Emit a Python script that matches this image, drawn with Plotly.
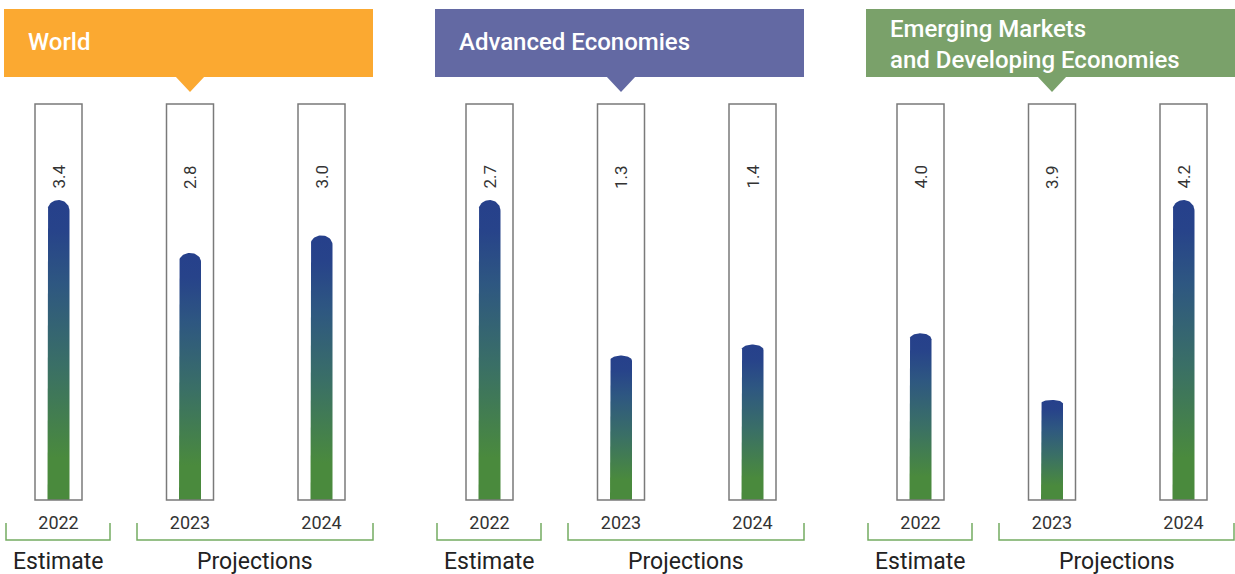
import numpy as np
import plotly.graph_objects as go

# data
panels = ["World", "Advanced Economies", "Emerging Markets<br>and Developing Economies"]
years = ["2022", "2023", "2024"]
world = [3.4, 2.8, 3.0]
advanced = [2.7, 1.3, 1.4]
emde = [4.0, 3.9, 4.2]
bases = [0, 0, 3.75]   # value at bottom of each tube
groups = ["Estimate", "Projections"]

series = [world, advanced, emde]
header_colors = ["#FBA931", "#6369A3", "#7AA16A"]

W, H = 1235, 574


def px(x):
    return x / W


def py(y):
    return 1 - y / H


gradient = [[0.0, "#4A8A3D"], [0.14, "#4A8A3D"], [0.45, "#3A6F66"],
            [0.72, "#2E5781"], [0.9, "#27438A"], [1.0, "#26408B"]]

fig = go.Figure()
shapes = []
annotations = []

step = 131.5       # pixels between tube centres
tube_half = 23.5 / step
bar_half = 11 / step

for p, (name, vals, base) in enumerate(zip(panels, series, bases)):
    o = 431 * p
    k = "" if p == 0 else str(p + 1)
    xa, ya = "x" + k, "y" + k
    top = base + (max(vals) - base) * 1.32

    fig.update_layout(**{
        "xaxis" + k: dict(domain=[px(58.5 + o - 0.2 * step), px(321.5 + o + 0.2 * step)],
                          range=[-0.2, 2.2], showgrid=False, zeroline=False, showline=False,
                          tickvals=[0, 1, 2], ticktext=years, ticks="outside", ticklen=6,
                          tickcolor="rgba(0,0,0,0)", tickfont=dict(size=18, color="#333"),
                          anchor=ya, fixedrange=True),
        "yaxis" + k: dict(domain=[py(500), py(104)], range=[base, top], showgrid=False,
                          zeroline=False, showline=False, showticklabels=False,
                          anchor=xa, fixedrange=True),
    })

    # thermometer bars
    for i, v in enumerate(vals):
        ry = 0.036 * (v - base)
        t = np.linspace(np.pi, 0, 30)
        xs = [i - bar_half] + list(i + bar_half * np.cos(t)) + [i + bar_half, i - bar_half]
        ys = [base] + list(v - ry + ry * np.sin(t)) + [base, base]
        fig.add_trace(go.Scatter(
            x=xs, y=ys, xaxis=xa, yaxis=ya, mode="lines", fill="toself",
            line=dict(width=0), fillgradient=dict(type="vertical", colorscale=gradient),
            hoverinfo="skip", showlegend=False))

        shapes.append(dict(type="rect", xref=xa, yref=ya + " domain",
                           x0=i - tube_half, x1=i + tube_half, y0=0, y1=1,
                           line=dict(color="#7a7a7a", width=1.5)))
        annotations.append(dict(xref=xa, yref=ya + " domain", x=i, y=(500 - 163) / 396,
                                text=f"{v:.1f}", textangle=-90, showarrow=False,
                                font=dict(size=17, color="#333")))

    # header box with pointer
    shapes.append(dict(type="rect", xref="paper", yref="paper", layer="below",
                       x0=px(4 + o), x1=px(min(373 + o, W)), y0=py(77), y1=py(9),
                       fillcolor=header_colors[p], line=dict(width=0)))
    shapes.append(dict(type="path", xref="paper", yref="paper",
                       path=f"M {px(175 + o)},{py(76)} L {px(205 + o)},{py(76)} "
                            f"L {px(190 + o)},{py(92)} Z",
                       fillcolor=header_colors[p], line=dict(width=0)))
    two_line = "<br>" in name
    annotations.append(dict(xref="paper", yref="paper", x=px(26 + o),
                            y=py(44 if two_line else 42),
                            text=name, xanchor="left", yanchor="middle", align="left",
                            showarrow=False,
                            font=dict(size=24, color="white", weight=500)))

    # estimate / projections brackets
    for (x0, x1), label in zip([(6, 110), (137, 373)], groups):
        x1 = min(x1 + o, W - 1)
        x0 = x0 + o
        shapes.append(dict(type="path", xref="paper", yref="paper",
                           path=f"M {px(x0)},{py(523)} L {px(x0)},{py(540)} "
                                f"L {px(x1)},{py(540)} L {px(x1)},{py(523)}",
                           line=dict(color="#74AC62", width=1.5)))
        annotations.append(dict(xref="paper", yref="paper", x=px((x0 + x1) / 2), y=py(561),
                                text=label, showarrow=False, xanchor="center",
                                yanchor="middle", font=dict(size=23, color="#222")))

fig.update_layout(
    width=W, height=H,
    margin=dict(l=0, r=0, t=0, b=0),
    paper_bgcolor="white", plot_bgcolor="white",
    font=dict(family="Roboto, sans-serif"),
    shapes=shapes, annotations=annotations,
    showlegend=False,
)

fig.write_html("out.html", config={"displayModeBar": False},
               post_script="document.body.style.margin='0';")
